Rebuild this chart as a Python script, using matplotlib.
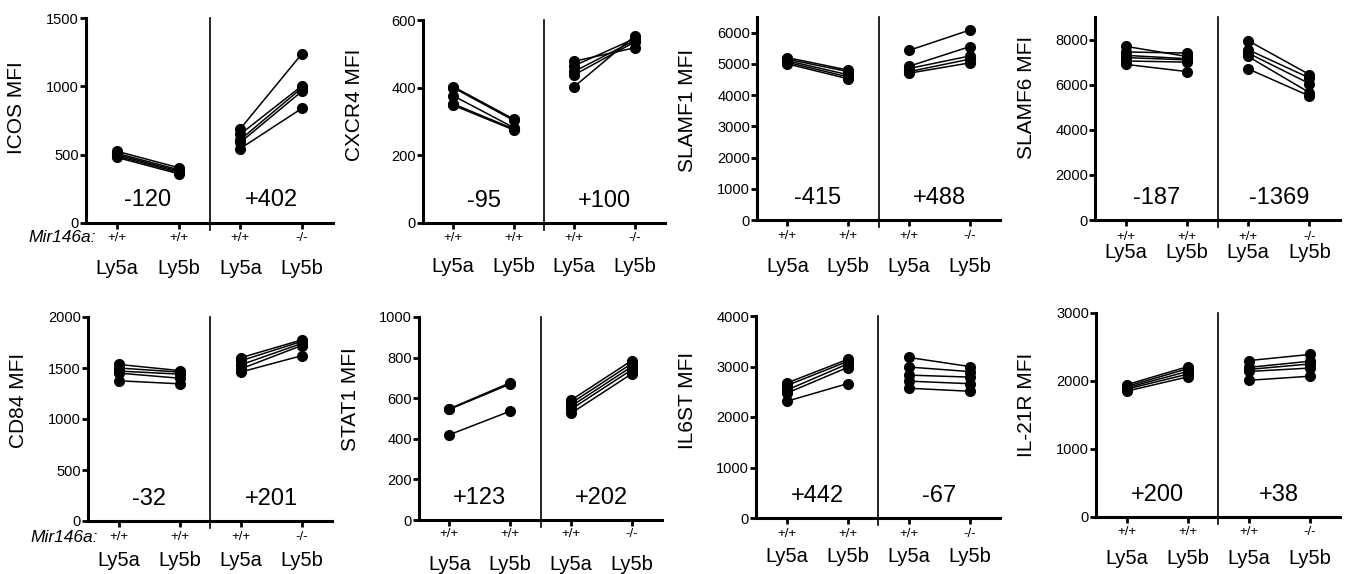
import numpy as np
import matplotlib.pyplot as plt
from matplotlib.transforms import blended_transform_factory

plt.rcParams['font.family'] = ['Liberation Sans', 'DejaVu Sans']

# MFI per mouse. "wt" pair: +/+ Ly5a vs +/+ Ly5b ; "ko" pair: +/+ Ly5a vs -/- Ly5b
icos_wt_a = [525, 510, 500, 490, 480]
icos_wt_b = [405, 390, 380, 370, 360]
icos_ko_a = [690, 650, 610, 590, 545]
icos_ko_b = [1240, 1005, 990, 965, 840]

cxcr4_wt_a = [403, 400, 376, 352, 348]
cxcr4_wt_b = [307, 303, 282, 278, 275]
cxcr4_ko_a = [478, 465, 448, 438, 403]
cxcr4_ko_b = [518, 545, 540, 535, 553]

slamf1_wt_a = [5200, 5150, 5100, 5050, 5000]
slamf1_wt_b = [4800, 4750, 4650, 4580, 4520]
slamf1_ko_a = [5430, 4920, 4850, 4750, 4700]
slamf1_ko_b = [6080, 5550, 5250, 5150, 5030]

slamf6_wt_a = [7700, 7450, 7300, 7200, 7050, 6900]
slamf6_wt_b = [7250, 7400, 7150, 7100, 7000, 6580]
slamf6_ko_a = [7950, 7550, 7400, 7250, 6700]
slamf6_ko_b = [6450, 6300, 6050, 5650, 5500]

cd84_wt_a = [1535, 1500, 1470, 1450, 1375]
cd84_wt_b = [1475, 1460, 1440, 1400, 1345]
cd84_ko_a = [1600, 1570, 1530, 1490, 1460]
cd84_ko_b = [1775, 1760, 1740, 1720, 1620]

stat1_wt_a = [548, 545, 420]
stat1_wt_b = [676, 670, 536]
stat1_ko_a = [590, 575, 560, 545, 525]
stat1_ko_b = [785, 770, 755, 740, 720]

il6st_wt_a = [2670, 2620, 2530, 2470, 2310]
il6st_wt_b = [3140, 3100, 3050, 2980, 2660]
il6st_ko_a = [3180, 2990, 2830, 2710, 2570]
il6st_ko_b = [3000, 2900, 2790, 2660, 2510]

il21r_wt_a = [1945, 1920, 1900, 1880, 1850]
il21r_wt_b = [2210, 2180, 2140, 2100, 2060]
il21r_ko_a = [2300, 2200, 2170, 2140, 2010]
il21r_ko_b = [2390, 2290, 2250, 2190, 2070]

markers = ['ICOS', 'CXCR4', 'SLAMF1', 'SLAMF6', 'CD84', 'STAT1', 'IL6ST', 'IL-21R']
wt_a = [icos_wt_a, cxcr4_wt_a, slamf1_wt_a, slamf6_wt_a, cd84_wt_a, stat1_wt_a, il6st_wt_a, il21r_wt_a]
wt_b = [icos_wt_b, cxcr4_wt_b, slamf1_wt_b, slamf6_wt_b, cd84_wt_b, stat1_wt_b, il6st_wt_b, il21r_wt_b]
ko_a = [icos_ko_a, cxcr4_ko_a, slamf1_ko_a, slamf6_ko_a, cd84_ko_a, stat1_ko_a, il6st_ko_a, il21r_ko_a]
ko_b = [icos_ko_b, cxcr4_ko_b, slamf1_ko_b, slamf6_ko_b, cd84_ko_b, stat1_ko_b, il6st_ko_b, il21r_ko_b]
delta_wt = ['-120', '-95', '-415', '-187', '-32', '+123', '+442', '+200']
delta_ko = ['+402', '+100', '+488', '-1369', '+201', '+202', '-67', '+38']
y_max = [1500, 600, 6500, 9000, 2000, 1000, 4000, 3000]
y_tick_top = [1500, 600, 6000, 8000, 2000, 1000, 4000, 3000]
y_step = [500, 200, 1000, 2000, 500, 200, 1000, 1000]

genotypes = ['+/+', '+/+', '+/+', '-/-']
strains = ['Ly5a', 'Ly5b', 'Ly5a', 'Ly5b']

# panel placement in pixels (figure is 1347 x 574)
W, H = 1347, 574
ax_left = [86, 423, 757, 1095, 88, 419, 756, 1096]
ax_right = [333, 665, 1000, 1340, 332, 662, 1000, 1340]
ax_zero = [223, 223, 220, 220, 521, 520, 518, 517]
ax_top = [18, 20, 17, 17, 317, 317, 316, 313]
geno_off = [15, 15, 16, 17, 16, 14, 16, 15]
strain_off = [46, 44, 47, 32, 40, 44, 38, 42]
ylab_y = [108, 105, 110, 97, 400, 399, 400, 405]

fig = plt.figure(figsize=(W / 100, H / 100), dpi=100)

for i in range(8):
    rect = [ax_left[i] / W, 1 - ax_zero[i] / H,
            (ax_right[i] - ax_left[i]) / W, (ax_zero[i] - ax_top[i]) / H]
    ax = fig.add_axes(rect)

    for a, b in zip(wt_a[i], wt_b[i]):
        ax.plot([1, 2], [a, b], color='black', lw=1.1, marker='o', ms=7,
                clip_on=False, zorder=3)
    for a, b in zip(ko_a[i], ko_b[i]):
        ax.plot([3, 4], [a, b], color='black', lw=1.1, marker='o', ms=7,
                clip_on=False, zorder=3)

    ax.set_xlim(0.5, 4.5)
    ax.set_ylim(0, y_max[i])
    ax.set_yticks(np.arange(0, y_tick_top[i] + 1, y_step[i]))
    ax.set_xticks([1, 2, 3, 4])
    ax.set_xticklabels([])
    ax.tick_params(axis='both', length=4, width=2, color='black')
    ax.tick_params(axis='y', labelsize=10.5, pad=1)
    for s in ['top', 'right']:
        ax.spines[s].set_visible(False)
    for s in ['left', 'bottom']:
        ax.spines[s].set_linewidth(2.2)

    trans = blended_transform_factory(ax.transData, ax.transAxes)
    ax.plot([2.5, 2.5], [-0.035, 1.0], transform=trans, color='black',
            lw=1.2, clip_on=False)

    ax.text(1.5, 0.11, delta_wt[i], transform=trans, ha='center', va='center',
            fontsize=17)
    ax.text(3.5, 0.11, delta_ko[i], transform=trans, ha='center', va='center',
            fontsize=17)

    for x, g, s in zip([1, 2, 3, 4], genotypes, strains):
        ax.annotate(g, xy=(x, 0), xycoords=trans, xytext=(0, -geno_off[i]),
                    textcoords='offset pixels', ha='center', va='center',
                    fontsize=9.5)
        ax.annotate(s, xy=(x, 0), xycoords=trans, xytext=(0, -strain_off[i]),
                    textcoords='offset pixels', ha='center', va='center',
                    fontsize=14.5)

    if i % 4 == 0:
        ax.annotate('Mir146a:', xy=(0, 0), xycoords='axes fraction',
                    xytext=(10, -geno_off[i]), textcoords='offset pixels',
                    ha='right', va='center', fontsize=12.5, style='italic')

    fig.text((ax_left[i] - 69) / W, 1 - ylab_y[i] / H, markers[i] + ' MFI',
             rotation=90, ha='center', va='center', fontsize=15)

fig.savefig('out.png', dpi=100)
